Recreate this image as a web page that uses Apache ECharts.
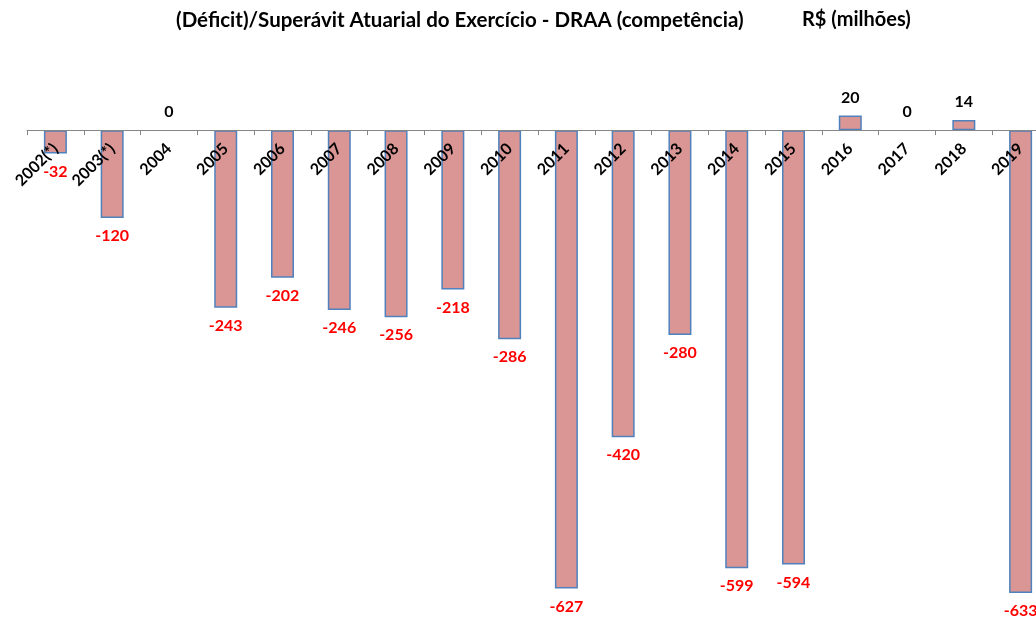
<!DOCTYPE html>
<html>
<head>
<meta charset="utf-8">
<script src="https://cdn.jsdelivr.net/npm/echarts@6/dist/echarts.min.js"></script>
<style>
  html, body { margin: 0; padding: 0; background: #fff; }
  #chart { width: 1036px; height: 623px; }
</style>
</head>
<body>
<div id="chart"></div>
<script>
// categorias (anos) e valores em R$ milhões
const years = ['2002(*)', '2003(*)', '2004', '2005', '2006', '2007', '2008', '2009', '2010',
  '2011', '2012', '2013', '2014', '2015', '2016', '2017', '2018', '2019'];
const resultado = [-32, -120, 0, -243, -202, -246, -256, -218, -286,
  -627, -420, -280, -599, -594, 20, 0, 14, -633];

const titleText = '(Déficit)/Superávit Atuarial do Exercício - DRAA (competência)';
const unitText = 'R$ (milhões)';

const chart = echarts.init(document.getElementById('chart'));
const font = 'Lato, "Open Sans", sans-serif';

// grade: topo 57, altura 585, escala -700..100 -> zero em y=130
const gridTop = 57, gridHeight = 585, yMin = -700, yMax = 100;
const zeroOffset = -gridHeight * (-yMin) / (yMax - yMin);

// barras (sem rótulos) - zero não desenha nada
const barData = resultado.map(v => ({
  value: v,
  itemStyle: v === 0 ? { color: 'transparent', borderWidth: 0 } : undefined
}));

// rótulos de valor numa série transparente por cima dos rótulos do eixo
const labelData = resultado.map(v => ({
  value: v,
  label: v < 0
    ? { position: 'bottom', color: '#ff0000' }
    : { position: 'top', color: '#000' }
}));

chart.setOption({
  animation: false,
  backgroundColor: '#fff',
  title: [
    {
      text: titleText, left: 171, top: 5,
      textStyle: { fontFamily: font, fontSize: 20.5, fontWeight: 'bold', color: '#000' }
    },
    {
      text: unitText, left: 797, top: 5,
      textStyle: { fontFamily: font, fontSize: 20, fontWeight: 'bold', color: '#000' }
    }
  ],
  grid: { left: 27, top: gridTop, width: 1022, height: gridHeight, outerBoundsMode: 'none' },
  xAxis: {
    type: 'category',
    data: years,
    position: 'bottom',
    offset: zeroOffset,
    z: 10,
    axisLine: { onZero: false, lineStyle: { color: '#868686', width: 1 } },
    axisTick: { show: true, length: 5, lineStyle: { color: '#868686' } },
    axisLabel: {
      rotate: 45, interval: 0, margin: 16, hideOverlap: false,
      fontFamily: font, fontSize: 16, fontWeight: 'bold', color: '#000'
    }
  },
  yAxis: {
    type: 'value', min: yMin, max: yMax,
    show: false, splitLine: { show: false }
  },
  series: [
    {
      type: 'bar',
      data: barData,
      barWidth: 23,
      z: 2,
      itemStyle: { color: '#d99694', borderColor: '#4f81bd', borderWidth: 1.5 }
    },
    {
      type: 'bar',
      data: labelData,
      barWidth: 23,
      barGap: '-100%',
      z: 20,
      silent: true,
      itemStyle: { color: 'transparent', borderWidth: 0 },
      label: {
        show: true, distance: 10,
        fontFamily: font, fontSize: 16, fontWeight: 'bold'
      }
    }
  ]
});
</script>
</body>
</html>
